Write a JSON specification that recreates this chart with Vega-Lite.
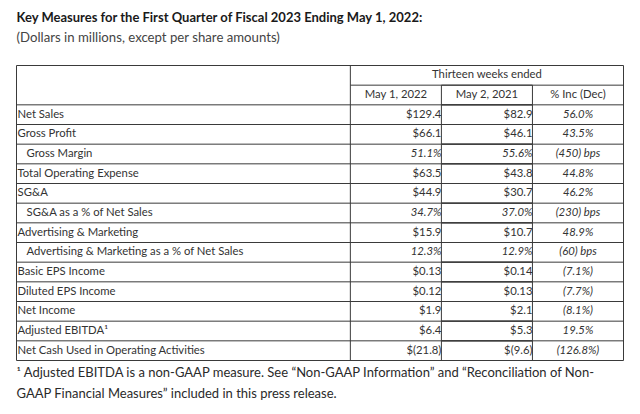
{
  "$schema": "https://vega.github.io/schema/vega-lite/v6.json",
  "width": 607,
  "height": 295,
  "autosize": {"type": "none"},
  "padding": {"left": 16.5, "top": 65.5, "right": 16.5, "bottom": 53.5},
  "background": "white",
  "title": {
    "text": "Key Measures for the First Quarter of Fiscal 2023 Ending May 1, 2022:",
    "subtitle": "(Dollars in millions, except per share amounts)",
    "anchor": "start",
    "frame": "group",
    "font": "Lato",
    "fontSize": 13,
    "fontWeight": "bold",
    "color": "#1a1a1a",
    "subtitleFont": "Lato",
    "subtitleFontSize": 13.2,
    "subtitleColor": "#444444",
    "subtitlePadding": 7,
    "offset": 21
  },
  "datasets": {
    "table": [
      {"item": "Net Sales", "level": 0, "may2022": "$129.4", "may2021": "$82.9", "change": "56.0%"},
      {"item": "Gross Profit", "level": 0, "may2022": "$66.1", "may2021": "$46.1", "change": "43.5%"},
      {"item": "Gross Margin", "level": 1, "may2022": "51.1%", "may2021": "55.6%", "change": "(450) bps"},
      {"item": "Total Operating Expense", "level": 0, "may2022": "$63.5", "may2021": "$43.8", "change": "44.8%"},
      {"item": "SG&A", "level": 0, "may2022": "$44.9", "may2021": "$30.7", "change": "46.2%"},
      {"item": "SG&A as a % of Net Sales", "level": 1, "may2022": "34.7%", "may2021": "37.0%", "change": "(230) bps"},
      {"item": "Advertising & Marketing", "level": 0, "may2022": "$15.9", "may2021": "$10.7", "change": "48.9%"},
      {"item": "Advertising & Marketing as a % of Net Sales", "level": 1, "may2022": "12.3%", "may2021": "12.9%", "change": "(60) bps"},
      {"item": "Basic EPS Income", "level": 0, "may2022": "$0.13", "may2021": "$0.14", "change": "(7.1%)"},
      {"item": "Diluted EPS Income", "level": 0, "may2022": "$0.12", "may2021": "$0.13", "change": "(7.7%)"},
      {"item": "Net Income", "level": 0, "may2022": "$1.9", "may2021": "$2.1", "change": "(8.1%)"},
      {"item": "Adjusted EBITDA¹", "level": 0, "may2022": "$6.4", "may2021": "$5.3", "change": "19.5%"},
      {"item": "Net Cash Used in Operating Activities", "level": 0, "may2022": "$(21.8)", "may2021": "$(9.6)", "change": "(126.8%)"}
    ],
    "header": [{"span": "Thirteen weeks ended", "c1": "May 1, 2022", "c2": "May 2, 2021", "c3": "% Inc (Dec)"}],
    "note": [{"text": "¹ Adjusted EBITDA is a non-GAAP measure. See “Non-GAAP Information” and “Reconciliation of Non-\nGAAP Financial Measures” included in this press release."}]
  },
  "layer": [
    {
      "data": {"name": "table"},
      "mark": {"type": "rule", "stroke": "#3a3a3a", "strokeWidth": 1},
      "encoding": {
        "y": {"field": "item", "type": "nominal", "bandPosition": 0, "sort": null,
          "scale": {"type": "band", "paddingInner": 0, "paddingOuter": 0,
            "domain": ["h1", "h2", "Net Sales", "Gross Profit", "Gross Margin", "Total Operating Expense", "SG&A", "SG&A as a % of Net Sales", "Advertising & Marketing", "Advertising & Marketing as a % of Net Sales", "Basic EPS Income", "Diluted EPS Income", "Net Income", "Adjusted EBITDA¹", "Net Cash Used in Operating Activities"]}},
        "x": {"datum": 0, "type": "quantitative", "scale": {"domain": [0, 20], "nice": false, "zero": false}},
        "x2": {"datum": 20}
      }
    },
    {
      "data": {"name": "header"},
      "mark": {"type": "rule", "stroke": "#3a3a3a", "strokeWidth": 1},
      "encoding": {
        "y": {"datum": "h1", "type": "nominal", "bandPosition": 0, "scale": {"type": "band"}},
        "x": {"datum": 0, "type": "quantitative"},
        "x2": {"datum": 20}
      }
    },
    {
      "data": {"name": "header"},
      "mark": {"type": "rule", "stroke": "#3a3a3a", "strokeWidth": 1},
      "encoding": {
        "y": {"datum": "h2", "type": "nominal", "bandPosition": 0, "scale": {"type": "band"}},
        "x": {"datum": 11, "type": "quantitative"},
        "x2": {"datum": 20}
      }
    },
    {
      "data": {"name": "header"},
      "mark": {"type": "rule", "stroke": "#3a3a3a", "strokeWidth": 1},
      "encoding": {
        "y": {"datum": "Net Cash Used in Operating Activities", "type": "nominal", "bandPosition": 1, "scale": {"type": "band"}},
        "x": {"datum": 0, "type": "quantitative"},
        "x2": {"datum": 20}
      }
    },
    {
      "data": {"name": "header"},
      "mark": {"type": "rule", "stroke": "#3a3a3a", "strokeWidth": 1},
      "encoding": {"x": {"datum": 0, "type": "quantitative"}}
    },
    {
      "data": {"name": "header"},
      "mark": {"type": "rule", "stroke": "#3a3a3a", "strokeWidth": 1},
      "encoding": {"x": {"datum": 11, "type": "quantitative"}}
    },
    {
      "data": {"name": "header"},
      "mark": {"type": "rule", "stroke": "#3a3a3a", "strokeWidth": 1},
      "encoding": {"x": {"datum": 20, "type": "quantitative"}}
    },
    {
      "data": {"name": "table"},
      "mark": {"type": "rect", "fill": null, "fillOpacity": 0, "stroke": "#3a3a3a", "strokeWidth": 1},
      "encoding": {
        "y": {"field": "item", "type": "nominal", "scale": {"type": "band"}},
        "x": {"datum": 14, "type": "quantitative"},
        "x2": {"datum": 17}
      }
    },
    {
      "data": {"name": "header"},
      "mark": {"type": "rect", "fill": null, "fillOpacity": 0, "stroke": "#3a3a3a", "strokeWidth": 1},
      "encoding": {
        "y": {"datum": "h2", "type": "nominal", "scale": {"type": "band"}},
        "x": {"datum": 14, "type": "quantitative"},
        "x2": {"datum": 17}
      }
    },
    {
      "data": {"name": "header"},
      "mark": {"type": "text", "align": "center"},
      "encoding": {
        "text": {"field": "span"},
        "y": {"datum": "h1", "type": "nominal", "scale": {"type": "band"}},
        "x": {"datum": 15.5, "type": "quantitative"}
      }
    },
    {
      "data": {"name": "header"},
      "mark": {"type": "text", "align": "center"},
      "encoding": {
        "text": {"field": "c1"},
        "y": {"datum": "h2", "type": "nominal", "scale": {"type": "band"}},
        "x": {"datum": 12.5, "type": "quantitative"}
      }
    },
    {
      "data": {"name": "header"},
      "mark": {"type": "text", "align": "center"},
      "encoding": {
        "text": {"field": "c2"},
        "y": {"datum": "h2", "type": "nominal", "scale": {"type": "band"}},
        "x": {"datum": 15.5, "type": "quantitative"}
      }
    },
    {
      "data": {"name": "header"},
      "mark": {"type": "text", "align": "center"},
      "encoding": {
        "text": {"field": "c3"},
        "y": {"datum": "h2", "type": "nominal", "scale": {"type": "band"}},
        "x": {"datum": 18.5, "type": "quantitative"}
      }
    },
    {
      "data": {"name": "table"},
      "transform": [{"filter": "datum.level == 0"}],
      "mark": {"type": "text", "align": "left", "dx": 1},
      "encoding": {
        "text": {"field": "item"},
        "y": {"field": "item", "type": "nominal", "scale": {"type": "band"}},
        "x": {"datum": 0, "type": "quantitative"}
      }
    },
    {
      "data": {"name": "table"},
      "transform": [{"filter": "datum.level == 1"}],
      "mark": {"type": "text", "align": "left", "dx": 10},
      "encoding": {
        "text": {"field": "item"},
        "y": {"field": "item", "type": "nominal", "scale": {"type": "band"}},
        "x": {"datum": 0, "type": "quantitative"}
      }
    },
    {
      "data": {"name": "table"},
      "transform": [{"filter": "indexof(datum.may2022, '%') < 0"}],
      "mark": {"type": "text", "align": "right", "dx": 0},
      "encoding": {
        "text": {"field": "may2022"},
        "y": {"field": "item", "type": "nominal", "scale": {"type": "band"}},
        "x": {"datum": 14, "type": "quantitative"}
      }
    },
    {
      "data": {"name": "table"},
      "transform": [{"filter": "indexof(datum.may2022, '%') >= 0"}],
      "mark": {"type": "text", "align": "right", "dx": 0, "fontStyle": "italic"},
      "encoding": {
        "text": {"field": "may2022"},
        "y": {"field": "item", "type": "nominal", "scale": {"type": "band"}},
        "x": {"datum": 14, "type": "quantitative"}
      }
    },
    {
      "data": {"name": "table"},
      "transform": [{"filter": "indexof(datum.may2021, '%') < 0"}],
      "mark": {"type": "text", "align": "right", "dx": 0},
      "encoding": {
        "text": {"field": "may2021"},
        "y": {"field": "item", "type": "nominal", "scale": {"type": "band"}},
        "x": {"datum": 17, "type": "quantitative"}
      }
    },
    {
      "data": {"name": "table"},
      "transform": [{"filter": "indexof(datum.may2021, '%') >= 0"}],
      "mark": {"type": "text", "align": "right", "dx": 0, "fontStyle": "italic"},
      "encoding": {
        "text": {"field": "may2021"},
        "y": {"field": "item", "type": "nominal", "scale": {"type": "band"}},
        "x": {"datum": 17, "type": "quantitative"}
      }
    },
    {
      "data": {"name": "table"},
      "mark": {"type": "text", "align": "center", "fontStyle": "italic"},
      "encoding": {
        "text": {"field": "change"},
        "y": {"field": "item", "type": "nominal", "scale": {"type": "band"}},
        "x": {"datum": 18.5, "type": "quantitative"}
      }
    },
    {
      "data": {"name": "note"},
      "mark": {"type": "text", "align": "left", "baseline": "alphabetic", "fontSize": 13, "lineBreak": "\n", "lineHeight": 21, "dy": 26, "color": "#2a2a2a"},
      "encoding": {
        "text": {"field": "text"},
        "y": {"datum": "Net Cash Used in Operating Activities", "type": "nominal", "scale": {"type": "band"}},
        "x": {"datum": 0, "type": "quantitative"}
      }
    }
  ],
  "config": {
    "view": {"stroke": null},
    "axis": {"disable": true},
    "text": {"font": "Lato", "fontSize": 11.3, "color": "#333333", "baseline": "middle"}
  }
}
